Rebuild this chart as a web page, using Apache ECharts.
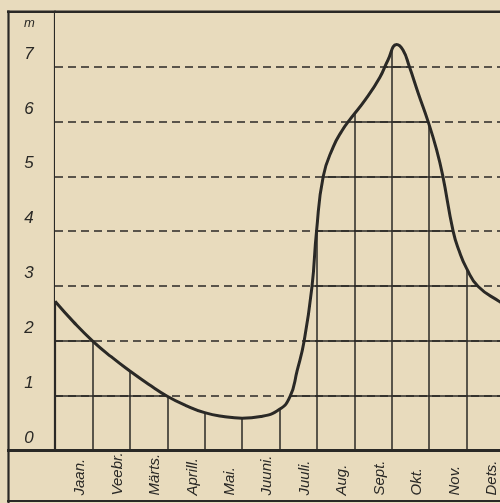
<!DOCTYPE html>
<html>
<head>
<meta charset="utf-8">
<script src="https://cdn.jsdelivr.net/npm/echarts@6/dist/echarts.min.js"></script>
<style>
  html, body { margin: 0; padding: 0; overflow: hidden; background: #e8dbbd; }
  #chart { width: 504px; height: 503px; }
</style>
</head>
<body>
<div id="chart"></div>
<script>
// Month names (each month is one band on the time axis)
const months = ['Jaan.', 'Veebr.', 'Märts.', 'Aprill.', 'Mai.', 'Juuni.', 'Juuli.', 'Aug.', 'Sept.', 'Okt.', 'Nov.', 'Dets.'];
// Water level scale, metres
const levelTicks = [0, 1, 2, 3, 4, 5, 6, 7];
const guideLevels = [1, 2, 3, 4, 5, 6, 7];
// Position in the year (months since 1 Jan) and water level at that moment (m)
const monthPos = [0, 0.5, 1, 1.5, 2, 2.5, 3, 3.5, 4, 4.5, 5, 5.5, 6, 6.28, 6.47, 6.66, 6.87, 6.99, 7.17, 7.44, 7.67, 7.9, 8.3, 8.68, 8.9, 9.13, 9.3, 9.47, 9.71, 9.97, 10.2, 10.36, 10.64, 10.8, 11.0, 11.31, 11.89, 12];
const waterLevel = [2.72, 2.34, 2.0, 1.71, 1.45, 1.21, 0.99, 0.82, 0.69, 0.62, 0.59, 0.62, 0.75, 0.98, 1.45, 2.0, 3.0, 4.0, 5.0, 5.54, 5.83, 6.05, 6.40, 6.80, 7.12, 7.40, 7.30, 7.0, 6.51, 6.0, 5.48, 5.02, 4.0, 3.64, 3.32, 2.99, 2.71, 2.66];

const paper = '#e8dbbd';
const ink = '#2a2926';
const font = 'Liberation Sans';

const curve = monthPos.map((m, i) => [m, waterLevel[i]]);

const chart = echarts.init(document.getElementById('chart'), null, { renderer: 'canvas' });
chart.setOption({
  backgroundColor: paper,
  animation: false,
  grid: { left: 55, right: 0, top: 11.7, bottom: 52.5 },
  xAxis: [
    {
      type: 'value', min: 0, max: months.length, interval: 1,
      axisLine: { show: false }, axisTick: { show: false }, axisLabel: { show: false },
      splitLine: { show: true, lineStyle: { color: ink, width: 1.5 } }
    },
    {
      type: 'category', data: months, boundaryGap: true, position: 'bottom',
      axisLine: { show: false }, axisTick: { show: false },
      axisLabel: {
        interval: 0, rotate: 90, align: 'left', verticalAlign: 'top',
        margin: 45, lineHeight: 13,
        fontFamily: font, fontStyle: 'italic', fontSize: 15, color: ink
      },
      splitLine: { show: false }
    }
  ],
  yAxis: {
    type: 'value', min: 0, max: 8, interval: 1,
    axisLine: { show: true, lineStyle: { color: ink, width: 2.2 } },
    axisTick: { show: false },
    axisLabel: {
      showMaxLabel: false, align: 'center', verticalAlign: 'bottom',
      margin: 26, lineHeight: 25,
      fontFamily: font, fontStyle: 'italic', fontSize: 17, color: ink,
      formatter: v => (levelTicks.indexOf(v) >= 0 ? String(v) : '')
    },
    splitLine: { show: true, lineStyle: { color: ink, width: 1.5 } }
  },
  series: [
    {
      // paper above the curve hides the grid there
      type: 'line', xAxisIndex: 0, data: curve, smooth: 0.5, symbol: 'none', z: 2,
      lineStyle: { width: 0, opacity: 0 },
      areaStyle: { origin: 'end', color: paper, opacity: 1 }
    },
    {
      // dashed level guides
      type: 'line', xAxisIndex: 0, data: [], z: 3,
      markLine: {
        silent: true, symbol: ['none', 'none'], label: { show: false },
        lineStyle: { color: ink, type: [8, 5], width: 1.6 },
        data: guideLevels.map(v => ({ yAxis: v }))
      }
    },
    {
      type: 'line', xAxisIndex: 0, data: curve, smooth: 0.5, symbol: 'none', z: 4,
      lineStyle: { color: ink, width: 3 }
    }
  ],
  graphic: [
    { type: 'line', z: 100, shape: { x1: 7, y1: 11.7, x2: 504, y2: 11.7 }, style: { stroke: ink, lineWidth: 2.6 } },
    { type: 'line', z: 100, shape: { x1: 8.5, y1: 10.5, x2: 8.5, y2: 503 }, style: { stroke: ink, lineWidth: 2.2 } },
    { type: 'line', z: 100, shape: { x1: 7, y1: 450.5, x2: 504, y2: 450.5 }, style: { stroke: ink, lineWidth: 2.8 } },
    { type: 'line', z: 100, shape: { x1: 7, y1: 501, x2: 504, y2: 501 }, style: { stroke: ink, lineWidth: 2.2 } },
    { type: 'text', z: 100, left: 24, top: 17, style: { text: 'm', font: 'italic 13px "Liberation Sans"', fill: ink } }
  ]
});
</script>
</body>
</html>
